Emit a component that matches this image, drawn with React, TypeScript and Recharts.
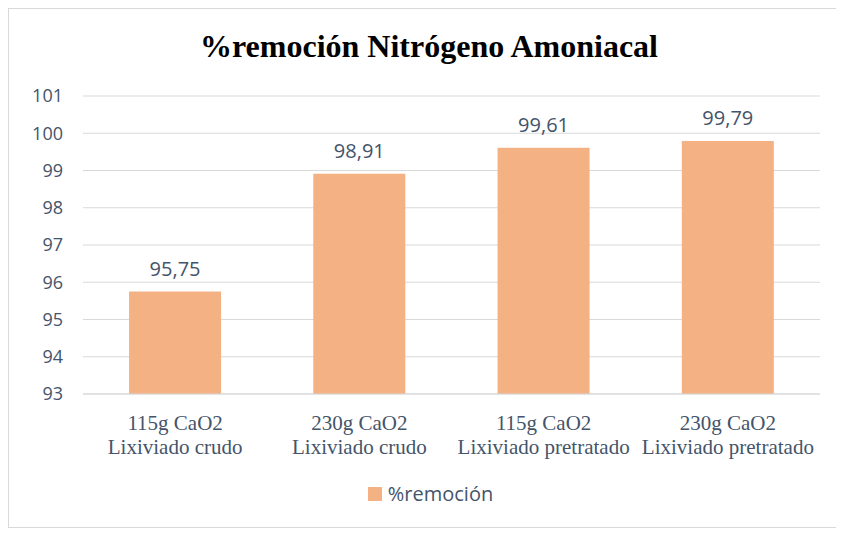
import { BarChart, Bar, XAxis, YAxis, CartesianGrid, LabelList, Legend } from "recharts"

const categories = [
  ["115g CaO2", "Lixiviado crudo"],
  ["230g CaO2", "Lixiviado crudo"],
  ["115g CaO2", "Lixiviado pretratado"],
  ["230g CaO2", "Lixiviado pretratado"],
]
const remocion = [95.75, 98.91, 99.61, 99.79]
const yTicks = [93, 94, 95, 96, 97, 98, 99, 100, 101]

const data = categories.map((c, i) => ({ name: c.join("|"), value: remocion[i] }))

const TEXT = "#44546a"

function CatTick({ x, y, payload }: any) {
  const [a, b] = String(payload.value).split("|")
  return (
    <text x={x} y={y} textAnchor="middle" fill={TEXT}
      style={{ fontFamily: "'Liberation Serif', 'Times New Roman', serif", fontSize: 21 }}>
      <tspan x={x} dy={28}>{a}</tspan>
      <tspan x={x} dy={24}>{b}</tspan>
    </text>
  )
}

function LegendBox() {
  return (
    <div style={{ display: "flex", alignItems: "center", justifyContent: "center", color: TEXT, paddingLeft: 32,
      fontFamily: "'Open Sans', 'Liberation Sans', sans-serif", fontSize: 20 }}>
      <span style={{ width: 14, height: 14, background: "#f4b183", display: "inline-block", marginRight: 6 }} />
      %remoción
    </div>
  )
}

export default function App() {
  return (
    <div style={{ position: "relative", width: 828, height: 518, border: "1px solid #d9d9d9", background: "#fff" }}>
      <div style={{ position: "absolute", top: 19, left: 0, width: "100%", textAlign: "center", paddingLeft: 12, boxSizing: "border-box",
        fontFamily: "'Liberation Serif', 'Times New Roman', serif", fontWeight: "bold", fontSize: 32, color: "#000" }}>
        %remoción Nitrógeno Amoniacal
      </div>
      <BarChart width={828} height={518} data={data}
        margin={{ top: 87, right: 17, left: 0, bottom: 26 }} barCategoryGap="25%">
        <CartesianGrid vertical={false} stroke="#d9d9d9" />
        <XAxis dataKey="name" tick={<CatTick />} tickLine={false} axisLine={{ stroke: "#d9d9d9" }} height={80} interval={0} />
        <YAxis domain={[93, 101]} ticks={yTicks} width={74} tickLine={false} axisLine={false}
          tickSize={0} tickMargin={20}
          tick={{ fill: TEXT, fontSize: 18, fontFamily: "'Open Sans', 'Liberation Sans', sans-serif" }} />
        <Legend verticalAlign="bottom" content={<LegendBox />} wrapperStyle={{ bottom: 20 }} />
        <Bar dataKey="value" fill="#f4b183" isAnimationActive={false}>
          <LabelList dataKey="value" position="top" offset={16}
            formatter={(v: any) => String(v).replace(".", ",")}
            style={{ fill: TEXT, fontSize: 20, fontFamily: "'Open Sans', 'Liberation Sans', sans-serif" }} />
        </Bar>
      </BarChart>
    </div>
  )
}
